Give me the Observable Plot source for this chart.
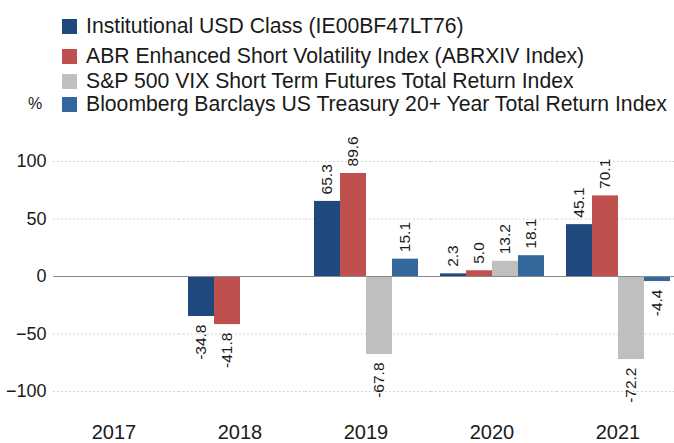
<!DOCTYPE html>
<html>
<head>
<meta charset="utf-8">
<script src="https://cdn.jsdelivr.net/npm/d3@7"></script>
<script src="https://cdn.jsdelivr.net/npm/@observablehq/plot@0.6"></script>
<style>
  body { margin: 0; background: #fff; font-family: "Liberation Sans", Arial, sans-serif; color: #1a1a1a; }
  #wrap { width: 674px; }
  #legend { position: relative; height: 115px; }
  .row { position: absolute; left: 62px; height: 26px; display: flex; align-items: center; font-size: 21.2px; white-space: nowrap; }
  .sw { width: 15px; height: 15px; margin-right: 9px; flex: none; }
  #pct { position: absolute; left: 28px; top: 95px; font-size: 16px; }
  svg { display: block; }
</style>
</head>
<body>
<div id="wrap">
  <div id="legend"><span id="pct">%</span></div>
  <div id="chart"></div>
</div>
<script>
const years = ["2017", "2018", "2019", "2020", "2021"];
const series = [
  "Institutional USD Class (IE00BF47LT76)",
  "ABR Enhanced Short Volatility Index (ABRXIV Index)",
  "S&P 500 VIX Short Term Futures Total Return Index",
  "Bloomberg Barclays US Treasury 20+ Year Total Return Index"
];
const colors = ["#1f497d", "#c0504d", "#bfbfbf", "#34679b"];
const fundValues = [null, -34.8, 65.3, 2.3, 45.1];
const abrValues = [null, -41.8, 89.6, 5.0, 70.1];
const vixValues = [null, null, -67.8, 13.2, -72.2];
const treasuryValues = [null, null, 15.1, 18.1, -4.4];
const yTicks = [-100, -50, 0, 50, 100];

const allValues = [fundValues, abrValues, vixValues, treasuryValues];
const data = [];
years.forEach((year, i) => {
  series.forEach((s, j) => {
    data.push({year, series: s, value: allValues[j][i]});
  });
});
const valued = data.filter(d => d.value !== null);

// legend
const legend = document.getElementById("legend");
const rowTops = [13, 43, 68, 91];
series.forEach((s, j) => {
  const row = document.createElement("div");
  row.className = "row";
  row.style.top = rowTops[j] + "px";
  const sw = document.createElement("span");
  sw.className = "sw";
  sw.style.background = colors[j];
  const t = document.createElement("span");
  t.textContent = s;
  row.appendChild(sw);
  row.appendChild(t);
  legend.appendChild(row);
});

const chart = Plot.plot({
  width: 674,
  height: 328,
  marginLeft: 59,
  marginRight: 1,
  marginTop: 23,
  marginBottom: 29,
  style: {fontFamily: "Liberation Sans, Arial, sans-serif", fontSize: "18px", color: "#1a1a1a", background: "#fff", overflow: "hidden"},
  fx: {domain: years, paddingInner: 0.165, paddingOuter: 0},
  x: {domain: series, axis: null, padding: 0},
  y: {domain: [-120, 120]},
  color: {domain: series, range: colors},
  marks: [
    Plot.ruleY(yTicks.filter(t => t !== 0), {stroke: "#c8c8c8", strokeDasharray: "1.5,2.5", insetLeft: -8, insetRight: -13}),
    Plot.barY(data, {fx: "year", x: "series", y: "value", fill: "series"}),
    Plot.ruleY([0], {stroke: "#8a8a8a", strokeWidth: 1.2, insetLeft: -8, insetRight: -13}),
    Plot.text(valued.filter(d => d.value >= 0), {fx: "year", x: "series", y: "value", text: d => d.value.toFixed(1), rotate: -90, textAnchor: "start", dy: -7, fontSize: 15.5, fill: "#1a1a1a"}),
    Plot.text(valued.filter(d => d.value < 0), {fx: "year", x: "series", y: "value", text: d => d.value.toFixed(1), rotate: -90, textAnchor: "end", dy: 8, fontSize: 15.5, fill: "#1a1a1a"}),
    Plot.axisY({ticks: yTicks, tickSize: 0, tickPadding: 15, label: null, fontSize: 18}),
    Plot.axisFx({anchor: "bottom", tickSize: 0, tickPadding: 10, label: null, fontSize: 20})
  ]
});
document.getElementById("chart").appendChild(chart);
</script>
</body>
</html>
